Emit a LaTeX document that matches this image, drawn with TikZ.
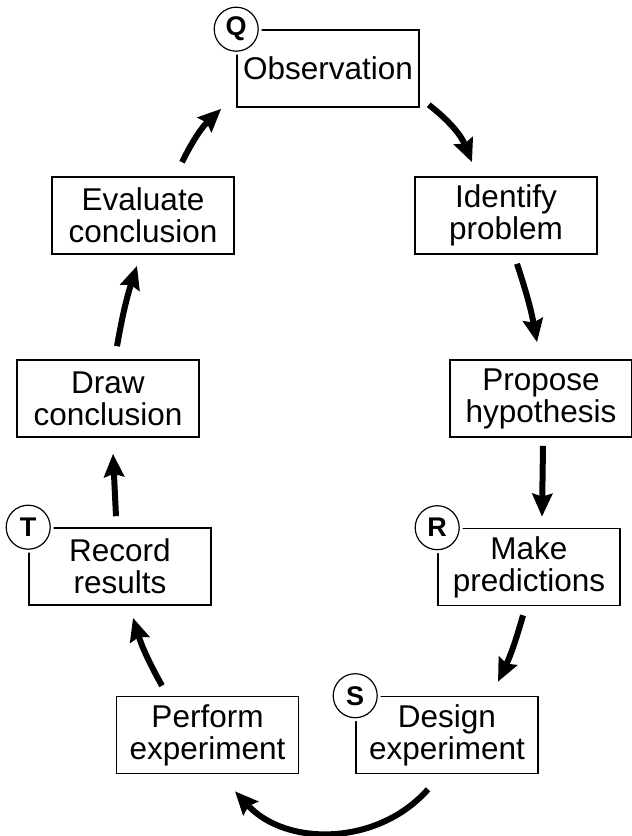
\documentclass[tikz,border=0pt]{standalone}
\usepackage{fontspec}
\setmainfont{Liberation Sans}
\usetikzlibrary{arrows.meta,calc}
\tikzset{
  stepbox/.style={draw, line width=1.6pt, rectangle, minimum width=182pt, minimum height=77pt,
    inner sep=0pt, align=center, font=\fontsize{31.5}{32}\selectfont},
  tag/.style={circle, draw, line width=1.2pt, fill=white, minimum size=44pt, inner sep=0pt,
    font=\fontsize{27}{27}\selectfont\bfseries, preaction={draw=white, line width=7pt}},
  arr/.style={line width=6pt, -{Stealth[length=23pt,width=20pt,inset=3pt]}}
}
\begin{document}
\begin{tikzpicture}[x=1pt,y=-1pt]
\useasboundingbox (0,0) rectangle (632,836);
\node[stepbox] (obs) at (328,68.5) {Observation};
\node[stepbox] (ident) at (506,215.5) {Identify\\problem};
\node[stepbox] (prop) at (541,398.5) {Propose\\hypothesis};
\node[stepbox] (make) at (529,567) {Make\\predictions};
\node[stepbox] (design) at (447,735) {Design\\experiment};
\node[stepbox] (perform) at (207.5,735) {Perform\\experiment};
\node[stepbox] (record) at (120,566.5) {Record\\results};
\node[stepbox] (drawc) at (108,398.5) {Draw\\conclusion};
\node[stepbox] (eval) at (143,215.5) {Evaluate\\conclusion};

\node[tag] (q) at (obs.north west) {Q};
\node[tag] (r) at (make.north west) {R};
\node[tag] (s) at (design.north west) {S};
\node[tag] (t) at (record.north west) {T};

\draw[arr] ($(obs.south east)+(9,-3)$) to[bend left=15] ($(ident.north)+(-34,-14)$);
\draw[arr] ($(ident.south)+(11,9)$) to[bend left=4] ($(prop.north)+(-4,-17)$);
\draw[arr] ($(prop.south)+(2,8)$) -- ($(make.north)+(13,-11)$);
\draw[arr] ($(make.south)+(-6,9)$) to[bend left=5] ($(design.north)+(51,-14)$);
\draw[arr] ($(design.south)+(-19,15)$) to[bend left=48] ($(perform.south)+(27.5,17)$);
\draw[arr] ($(perform.north)+(-45.5,-10)$) to[bend left=6] ($(record.south)+(13,12)$);
\draw[arr] ($(record.north)+(-4,-11)$) -- ($(drawc.south)+(5,16)$);
\draw[arr] ($(drawc.north)+(9,-13)$) to[bend left=4] ($(eval.south)+(-6,11)$);
\draw[arr] ($(eval.north)+(39,-14)$) to[bend left=10] ($(obs.south west)+(-15,1)$);
\end{tikzpicture}
\end{document}
